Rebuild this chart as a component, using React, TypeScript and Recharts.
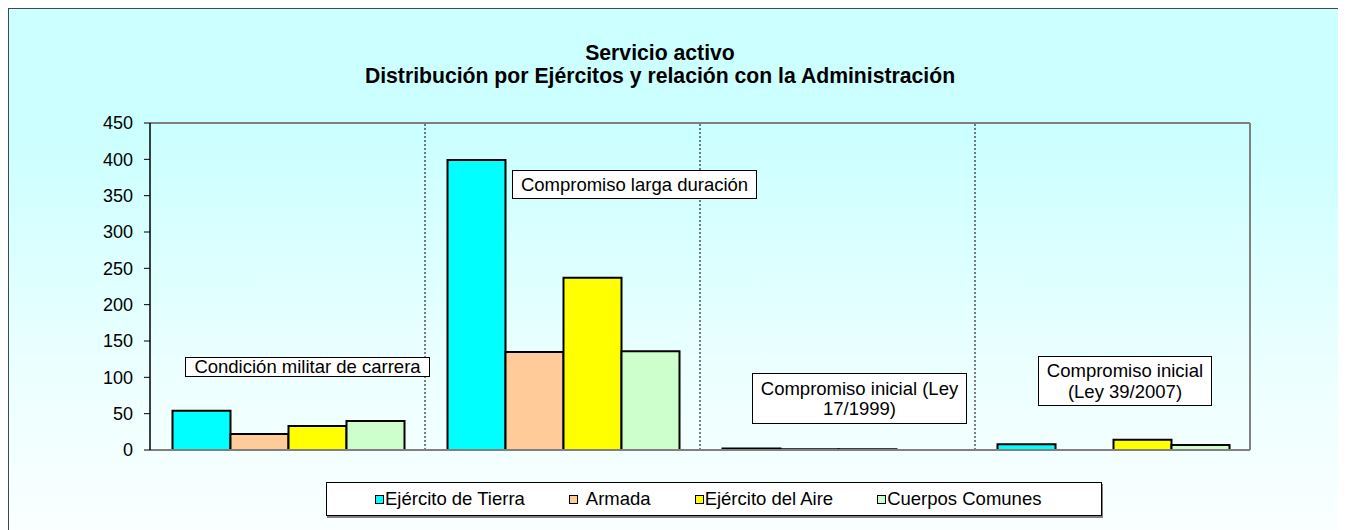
import { Bar, BarChart, ReferenceLine, XAxis, YAxis } from "recharts";

const categories = [
  "Condición militar de carrera",
  "Compromiso larga duración",
  "Compromiso inicial (Ley 17/1999)",
  "Compromiso inicial (Ley 39/2007)",
];
const categoryLines = [
  ["Condición militar de carrera"],
  ["Compromiso larga duración"],
  ["Compromiso inicial (Ley", "17/1999)"],
  ["Compromiso inicial", "(Ley 39/2007)"],
];
const tierra = [54, 399, 2, 8];
const armada = [22, 135, 1, 0];
const aire = [33, 237, 1, 14];
const comunes = [40, 136, 0, 7];
const yTicks = [0, 50, 100, 150, 200, 250, 300, 350, 400, 450];

const seriesKeys = ["tierra", "armada", "aire", "comunes"];
const seriesNames = ["Ejército de Tierra", "Armada", "Ejército del Aire", "Cuerpos Comunes"];
const seriesColors = ["#00FFFF", "#FFCC99", "#FFFF00", "#CCFFCC"];

const FONT = '"Liberation Sans", Arial, sans-serif';

const data = categories.map((name, i) => ({
  name,
  tierra: tierra[i],
  armada: armada[i],
  aire: aire[i],
  comunes: comunes[i],
}));

// label boxes, in wrapper coords
const boxStyles: React.CSSProperties[] = [
  { left: 176, top: 348, width: 245, height: 20, lineHeight: "18px" },
  { left: 503, top: 161, width: 245, height: 29, lineHeight: "20px" },
  { left: 743, top: 364, width: 215, height: 51, lineHeight: "20px" },
  { left: 1029, top: 347, width: 174, height: 50, lineHeight: "21px" },
];

export default function App() {
  return (
    <div
      style={{
        position: "relative",
        width: 1336,
        height: 522,
        boxSizing: "border-box",
        border: "1px solid #3c4a4a",
        borderBottom: "none",
        background: "linear-gradient(to bottom, #CCFFFF 0%, #CCFFFF 25%, #ECFFFF 70%, #FAFFFF 100%)",
        fontFamily: FONT,
        color: "#000",
      }}
    >
      <style>{`body{overflow:hidden}`}</style>
      <div
        style={{
          position: "absolute",
          left: 0,
          top: 32,
          width: 1302,
          textAlign: "center",
          fontWeight: "bold",
          fontSize: 21.2,
          lineHeight: "23px",
        }}
      >
        <div>Servicio activo</div>
        <div>Distribución por Ejércitos y relación con la Administración</div>
      </div>

      <BarChart
        width={1334}
        height={521}
        data={data}
        margin={{ top: 114, right: 93, bottom: 50, left: 81 }}
        barCategoryGap={22.5}
        barGap={0}
      >
        <XAxis
          dataKey="name"
          tick={false}
          tickLine={false}
          axisLine={{ stroke: "#808080", strokeWidth: 2 }}
          height={30}
        />
        <YAxis
          domain={[0, 450]}
          ticks={yTicks}
          interval={0}
          width={60}
          tickSize={6}
          tickMargin={11}
          axisLine={{ stroke: "#000", strokeWidth: 1.5 }}
          tickLine={{ stroke: "#000" }}
          tick={{ fill: "#000", fontSize: 18, fontFamily: FONT }}
        />
        <ReferenceLine y={450} stroke="#808080" strokeWidth={2} />
        <ReferenceLine x={categories[3]} position="end" stroke="#808080" strokeWidth={2} />
        {categories.slice(1).map((c) => (
          <ReferenceLine key={c} x={c} position="start" stroke="#000" strokeDasharray="2 2" />
        ))}
        {seriesKeys.map((k, i) => (
          <Bar
            key={k}
            dataKey={k}
            name={seriesNames[i]}
            fill={seriesColors[i]}
            stroke="#000"
            strokeWidth={2}
            isAnimationActive={false}
          />
        ))}
      </BarChart>

      {categoryLines.map((lines, i) => (
        <div
          key={i}
          style={{
            position: "absolute",
            boxSizing: "border-box",
            border: "1px solid #000",
            background: "#fff",
            display: "flex",
            flexDirection: "column",
            alignItems: "center",
            justifyContent: "center",
            textAlign: "center",
            fontSize: 18.5,
            whiteSpace: "nowrap",
            ...boxStyles[i],
          }}
        >
          {lines.map((l) => (
            <div key={l}>{l}</div>
          ))}
        </div>
      ))}

      <div
        style={{
          position: "absolute",
          left: 317,
          top: 473,
          width: 776,
          height: 34,
          boxSizing: "border-box",
          border: "1px solid #000",
          background: "#fff",
          boxShadow: "1px 2px 0 #808080",
          display: "flex",
          alignItems: "center",
          paddingLeft: 48,
          fontSize: 18.5,
        }}
      >
        {seriesNames.map((n, i) => (
          <div key={n} style={{ display: "flex", alignItems: "center", marginRight: 44 }}>
            <span
              style={{
                display: "inline-block",
                width: 9,
                height: 9,
                boxSizing: "border-box",
                border: "1.5px solid #000",
                background: seriesColors[i],
                marginRight: n === "Armada" ? 8 : 1,
              }}
            />
            <span>{n}</span>
          </div>
        ))}
      </div>
    </div>
  );
}
